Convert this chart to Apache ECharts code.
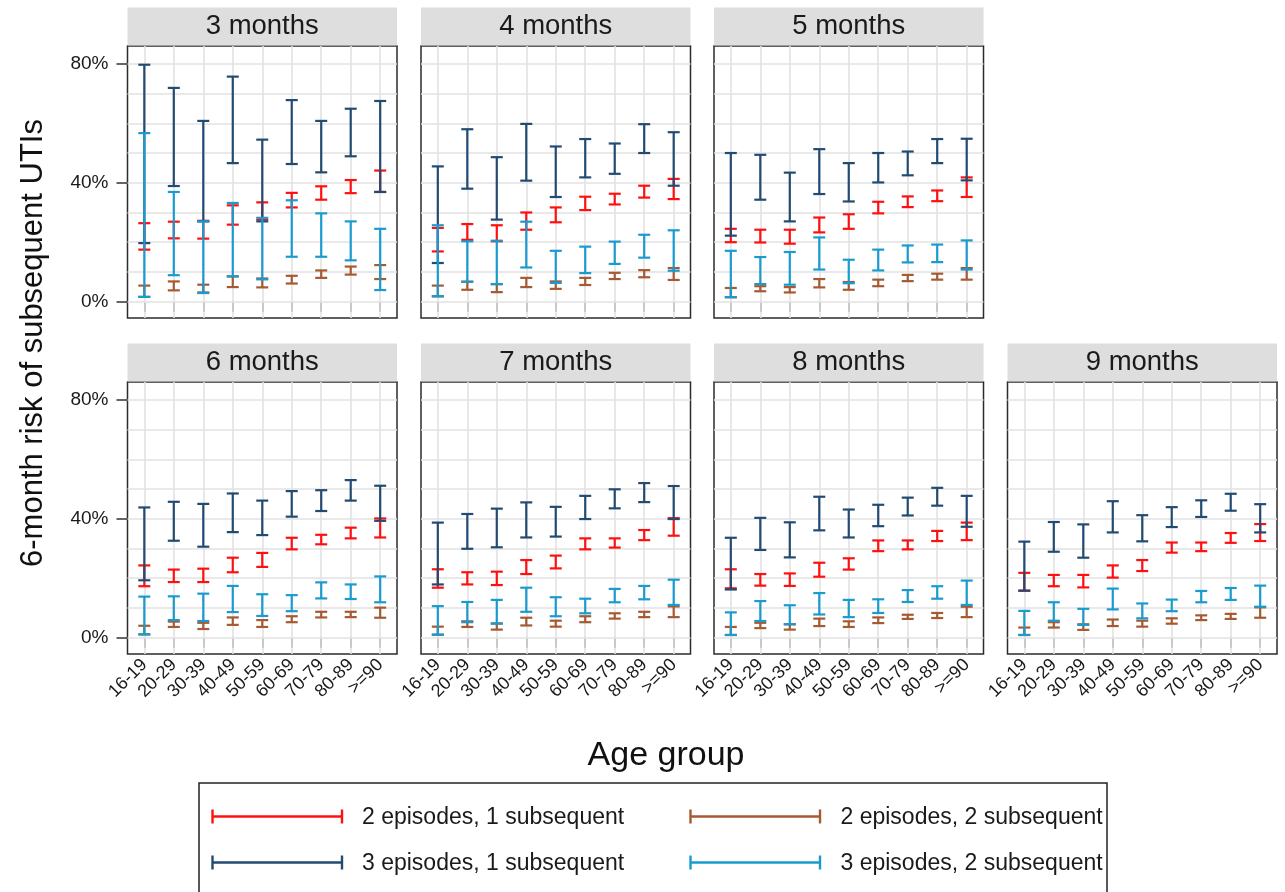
<!DOCTYPE html>
<html><head><meta charset="utf-8">
<script src="https://cdn.jsdelivr.net/npm/echarts@6/dist/echarts.min.js"></script>
<style>html,body{margin:0;padding:0;background:#fff}#c{width:1285px;height:892px}</style>
</head><body><div id="c"></div>
<script>
const categories = ['16-19','20-29','30-39','40-49','50-59','60-69','70-79','80-89','>=90'];
const panelTitles = ['3 months','4 months','5 months','6 months','7 months','8 months','9 months'];
const yTickValues = [0, 40, 80];
const gridLevels = [0, 10, 20, 30, 40, 50, 60, 70, 80];
const seriesNames = ['2 episodes, 1 subsequent','2 episodes, 2 subsequent','3 episodes, 1 subsequent','3 episodes, 2 subsequent'];

// [lower, upper] in % per age group
const red3 = [[17.5,26.4],[21.3,26.9],[21.2,27.2],[25.9,32.4],[27.6,33.4],[31.7,36.6],[34.3,38.8],[36.5,40.9],[36.9,44.1]];
const brown3 = [[1.6,5.4],[3.8,6.8],[3.1,5.7],[4.9,8.5],[4.8,7.8],[6.1,8.7],[8.0,10.5],[9.1,11.8],[7.6,12.3]];
const navy3 = [[19.7,79.7],[38.9,71.9],[27.0,60.8],[46.6,75.7],[27.0,54.5],[46.3,67.8],[43.5,60.8],[48.9,64.9],[36.9,67.5]];
const teal3 = [[1.6,56.7],[8.9,36.9],[2.9,27.0],[8.5,33.2],[7.5,28.2],[15.1,34.1],[15.1,29.7],[13.9,27.0],[3.9,24.5]];

const red4 = [[16.9,24.8],[20.8,26.1],[20.3,25.7],[24.2,30.0],[26.7,31.7],[30.8,35.3],[32.7,36.3],[35.0,39.0],[34.5,41.3]];
const brown4 = [[1.8,5.4],[4.0,6.7],[3.2,5.9],[4.9,8.0],[4.3,6.8],[5.6,8.0],[7.6,9.7],[8.2,10.6],[7.3,11.3]];
const navy4 = [[13.0,45.5],[38.0,58.0],[27.6,48.6],[40.7,59.8],[35.2,52.2],[41.8,54.7],[43.0,53.2],[50.0,59.7],[39.0,57.0]];
const teal4 = [[1.8,25.7],[6.7,20.3],[5.9,20.5],[11.5,26.9],[6.3,17.1],[9.6,18.5],[12.7,20.2],[14.8,22.5],[10.4,24.0]];

const red5 = [[20.0,24.5],[19.9,24.2],[19.5,24.2],[23.3,28.3],[24.5,29.4],[29.7,33.6],[31.8,35.4],[33.8,37.4],[35.2,41.8]];
const brown5 = [[1.5,4.6],[3.5,5.2],[3.1,4.9],[4.8,7.6],[4.0,6.6],[5.2,7.4],[6.9,9.0],[7.4,9.4],[7.4,11.3]];
const navy5 = [[22.2,50.0],[34.3,49.4],[27.0,43.4],[36.2,51.3],[33.7,46.6],[40.1,50.0],[42.5,50.5],[46.6,54.7],[40.8,54.8]];
const teal5 = [[1.5,17.1],[5.9,15.0],[5.7,16.7],[10.8,21.6],[6.2,14.1],[10.5,17.5],[13.2,18.9],[13.3,19.2],[10.8,20.6]];

const red6 = [[17.3,24.3],[18.7,22.9],[18.7,23.2],[22.0,26.9],[23.8,28.5],[29.7,33.6],[31.4,34.6],[33.4,37.0],[33.7,40.1]];
const brown6 = [[1.1,4.0],[3.6,5.4],[2.9,5.0],[4.3,6.8],[3.6,5.9],[5.2,7.2],[6.8,8.7],[6.9,8.7],[6.7,10.1]];
const navy6 = [[19.3,43.8],[32.6,45.7],[30.6,45.0],[35.5,48.5],[34.5,46.1],[40.7,49.3],[42.6,49.6],[46.1,53.0],[39.3,51.1]];
const teal6 = [[1.1,13.8],[5.9,13.9],[5.6,14.8],[8.6,17.4],[7.3,14.6],[8.9,14.3],[13.2,18.6],[13.0,17.9],[11.9,20.6]];

const red7 = [[16.8,23.0],[17.9,22.0],[17.7,22.2],[21.4,26.1],[23.3,27.6],[29.7,33.4],[30.3,33.4],[32.8,36.2],[34.3,40.2]];
const brown7 = [[1.0,3.7],[3.6,5.5],[2.7,4.8],[4.1,6.7],[3.7,5.7],[5.2,7.2],[6.4,8.2],[6.9,8.7],[6.9,10.5]];
const navy7 = [[17.9,38.7],[29.9,41.6],[30.4,43.4],[33.7,45.5],[34.0,44.0],[39.9,47.7],[43.5,49.9],[45.6,52.0],[39.9,51.0]];
const teal7 = [[1.0,10.6],[5.2,12.0],[4.7,12.7],[8.7,16.8],[7.2,13.6],[8.2,13.1],[11.9,16.4],[12.9,17.4],[11.0,19.5]];

const red8 = [[16.6,23.0],[17.5,21.4],[17.4,21.6],[20.5,25.2],[22.9,26.7],[29.1,32.7],[29.7,32.7],[32.5,35.9],[32.8,38.7]];
const brown8 = [[0.9,3.6],[3.2,5.0],[2.7,4.5],[3.9,6.4],[3.6,5.5],[4.9,6.8],[6.3,7.7],[6.6,8.3],[6.9,10.4]];
const navy8 = [[16.2,33.6],[29.5,40.3],[27.0,38.8],[36.1,47.4],[33.7,43.1],[37.5,44.7],[41.1,47.1],[44.4,50.4],[37.3,47.7]];
const teal8 = [[0.9,8.5],[5.6,12.3],[4.5,10.9],[7.8,15.0],[6.9,12.7],[8.3,12.9],[12.0,16.0],[13.1,17.3],[11.0,19.2]];

const red9 = [[15.8,21.8],[17.3,21.1],[16.9,21.1],[20.2,24.3],[22.4,26.1],[28.6,32.0],[29.1,32.0],[31.9,35.2],[32.5,38.2]];
const brown9 = [[0.9,3.4],[3.4,5.2],[2.6,4.5],[3.9,6.1],[3.7,5.7],[4.7,6.5],[5.9,7.5],[6.3,8.0],[6.7,10.2]];
const navy9 = [[15.8,32.3],[28.9,38.9],[26.9,38.1],[35.4,45.9],[32.4,41.2],[37.2,43.9],[40.6,46.2],[42.7,48.4],[35.4,44.9]];
const teal9 = [[0.9,9.0],[5.7,11.9],[4.3,9.7],[9.5,16.5],[6.5,11.5],[8.9,12.8],[11.9,15.7],[12.7,16.7],[10.4,17.5]];

const panelData = [
  [red3, brown3, navy3, teal3],
  [red4, brown4, navy4, teal4],
  [red5, brown5, navy5, teal5],
  [red6, brown6, navy6, teal6],
  [red7, brown7, navy7, teal7],
  [red8, brown8, navy8, teal8],
  [red9, brown9, navy9, teal9]
];
const colors = ['#ff1010', '#a65a32', '#234b72', '#1a9bcf'];
// drawing order: red, brown, navy, teal

const FONT = '"Liberation Sans", Arial, Helvetica, sans-serif';
const colLeft = [127.5, 421, 714, 1007.5];
const rowTop = [46, 382];
const panelW = 269.5, panelH = 272;
const panelPos = [[0,0],[0,1],[0,2],[1,0],[1,1],[1,2],[1,3]];

const grids = [], xAxes = [], yAxes = [], series = [], graphics = [];

function renderBar(params, api) {
  const x = api.value(0), lo = api.value(1), hi = api.value(2);
  const p1 = api.coord([x, lo]), p2 = api.coord([x, hi]);
  const w = 6;
  const style = { stroke: api.visual('color'), lineWidth: 2.2, fill: null };
  return { type: 'group', children: [
    { type: 'line', shape: { x1: p1[0], y1: p1[1], x2: p2[0], y2: p2[1] }, style: style },
    { type: 'line', shape: { x1: p1[0] - w, y1: p1[1], x2: p1[0] + w, y2: p1[1] }, style: style },
    { type: 'line', shape: { x1: p2[0] - w, y1: p2[1], x2: p2[0] + w, y2: p2[1] }, style: style }
  ]};
}

panelPos.forEach(function (rc, i) {
  const r = rc[0], c = rc[1];
  const left = colLeft[c], top = rowTop[r];
  grids.push({ left: left, top: top, width: panelW, height: panelH, show: true,
    borderColor: '#2b2b2b', borderWidth: 1.5, backgroundColor: '#fff', containLabel: false });
  xAxes.push({ type: 'value', gridIndex: i, min: 0.43, max: 9.57,
    axisLine: { show: false },
    axisTick: { show: true, customValues: categories.map(function (_, k) { return k + 1; }), length: 10, lineStyle: { color: '#333', width: 1.5 } },
    axisLabel: { show: r === 1, customValues: categories.map(function (_, k) { return k + 1; }),
      formatter: function (v) { return categories[Math.round(v) - 1] || ''; },
      rotate: 45, fontSize: 18, color: '#1a1a1a', fontFamily: FONT, margin: 8 },
    splitLine: { show: false } });
  yAxes.push({ type: 'value', gridIndex: i, min: -5.5, max: 86,
    axisLine: { show: false },
    axisTick: { show: c === 0, customValues: yTickValues, length: 11, lineStyle: { color: '#333', width: 1.5 } },
    axisLabel: { show: c === 0, customValues: yTickValues, formatter: function (v) { return v + '%'; },
      fontSize: 19, color: '#1a1a1a', fontFamily: FONT, margin: 19 },
    splitLine: { show: false } });
  // gridlines
  series.push({ type: 'line', xAxisIndex: i, yAxisIndex: i, data: [], z: 1, silent: true,
    markLine: { silent: true, symbol: 'none', animation: false, z: 1, label: { show: false },
      lineStyle: { color: '#e2e2e2', width: 1.6, type: 'solid' },
      data: gridLevels.map(function (v) { return { yAxis: v }; })
        .concat(categories.map(function (_, k) { return { xAxis: k + 1 }; })) } });
  panelData[i].forEach(function (arr, s) {
    series.push({ type: 'custom', name: seriesNames[s], xAxisIndex: i, yAxisIndex: i, z: 10 + s,
      renderItem: renderBar, itemStyle: { color: colors[s] },
      encode: { x: 0, y: [1, 2] },
      data: arr.map(function (p, k) { return [k + 1, p[0], p[1]]; }) });
  });
  // strip header
  graphics.push({ type: 'rect', shape: { x: left, y: top - 38.5, width: panelW, height: 38 },
    style: { fill: '#dedede' }, silent: true });
  graphics.push({ type: 'text', x: left + panelW / 2, y: top - 19.5,
    style: { text: panelTitles[i], font: '27.5px ' + FONT, fill: '#1a1a1a', textAlign: 'center', textVerticalAlign: 'middle' } });
});

// axis titles
graphics.push({ type: 'text', x: 33, y: 343, rotation: Math.PI / 2,
  style: { text: '6-month risk of subsequent UTIs', font: '31px ' + FONT, fill: '#111', textAlign: 'center', textVerticalAlign: 'middle' } });
graphics.push({ type: 'text', x: 666, y: 756,
  style: { text: 'Age group', font: '34px ' + FONT, fill: '#111', textAlign: 'center', textVerticalAlign: 'middle' } });

// legend
graphics.push({ type: 'rect', shape: { x: 199, y: 783, width: 908, height: 130 },
  style: { fill: '#fff', stroke: '#222', lineWidth: 1.5 } });
const legendPos = [[212.5, 816.5], [690.5, 816.5], [212.5, 862.5], [690.5, 862.5]];
legendPos.forEach(function (p, s) {
  const x1 = p[0], x2 = p[0] + 129.5, y = p[1];
  const st = { stroke: colors[s], lineWidth: 2.4 };
  graphics.push({ type: 'line', shape: { x1: x1, y1: y, x2: x2, y2: y }, style: st });
  graphics.push({ type: 'line', shape: { x1: x1, y1: y - 7, x2: x1, y2: y + 7 }, style: st });
  graphics.push({ type: 'line', shape: { x1: x2, y1: y - 7, x2: x2, y2: y + 7 }, style: st });
  graphics.push({ type: 'text', x: 362 + (s % 2) * 478.5, y: y + 1,
    style: { text: seriesNames[s], font: '23px ' + FONT, fill: '#1a1a1a', textVerticalAlign: 'middle' } });
});

const chart = echarts.init(document.getElementById('c'), null, { renderer: 'canvas' });
chart.setOption({
  animation: false,
  backgroundColor: '#fff',
  grid: grids, xAxis: xAxes, yAxis: yAxes, series: series, graphic: graphics
});
</script></body></html>
